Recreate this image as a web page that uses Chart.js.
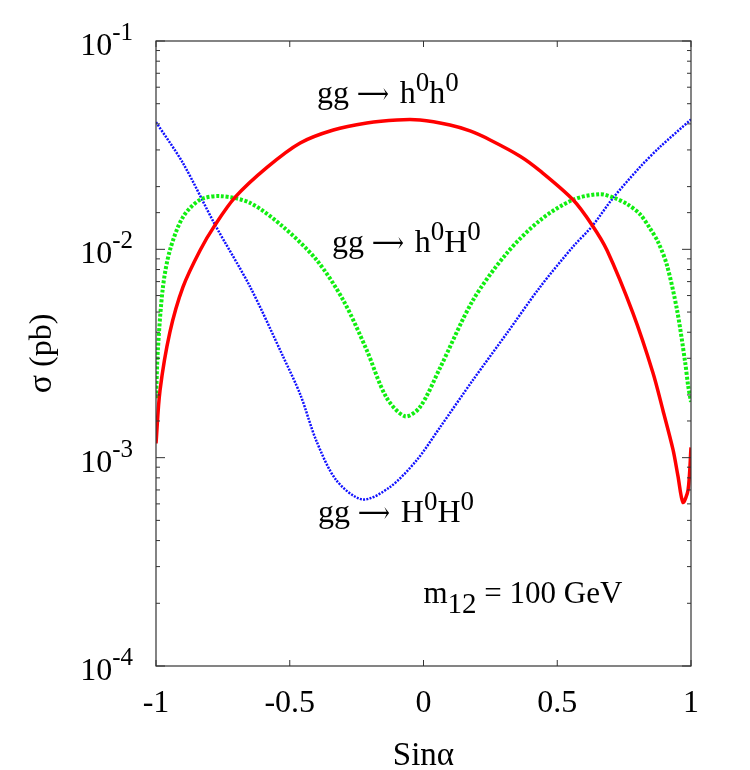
<!DOCTYPE html>
<html>
<head>
<meta charset="utf-8">
<script src="https://cdn.jsdelivr.net/npm/chart.js@4/dist/chart.umd.min.js"></script>
<style>
html,body{margin:0;padding:0;background:#fff;}
#wrap{width:750px;height:770px;position:relative;}
</style>
</head>
<body>
<div id="wrap"><canvas id="c" width="750" height="770"></canvas></div>
<script>
// ---- data ----
const xTicks = [-1, -0.5, 0, 0.5, 1];
const xTickLabels = ['-1', '-0.5', '0', '0.5', '1'];
const yMajor = [1e-4, 1e-3, 1e-2, 1e-1];
const yTickExp = ['-4', '-3', '-2', '-1'];

// gg -> h0h0 (red, solid)
const sHh = [-1, -0.985, -0.948, -0.899, -0.835, -0.779, -0.704, -0.584, -0.461, -0.337, -0.212, -0.099, -0.013, 0.099, 0.174, 0.249, 0.361, 0.436, 0.559, 0.630, 0.686, 0.783, 0.858, 0.895, 0.933, 0.951, 0.970, 0.989, 1.0];
const vHh = [1.17e-3, 2.1e-3, 4.0e-3, 6.6e-3, 9.9e-3, 0.0131, 0.0178, 0.0248, 0.0324, 0.0374, 0.0404, 0.0418, 0.0418, 0.0395, 0.0370, 0.0335, 0.0280, 0.0238, 0.0173, 0.0131, 9.9e-3, 4.94e-3, 2.55e-3, 1.69e-3, 1.09e-3, 8.2e-4, 6.1e-4, 7.0e-4, 1.12e-3];

// gg -> h0H0 (green, dotted)
const shH = [-1, -0.993, -0.974, -0.948, -0.899, -0.835, -0.757, -0.648, -0.524, -0.4, -0.30, -0.213, -0.139, -0.069, -0.013, 0.062, 0.185, 0.312, 0.436, 0.559, 0.660, 0.716, 0.761, 0.809, 0.846, 0.877, 0.910, 0.948, 0.978, 0.989, 1.0];
const vhH = [1.93e-3, 3.3e-3, 6.6e-3, 9.9e-3, 0.0143, 0.0173, 0.018, 0.0167, 0.0128, 8.9e-3, 5.7e-3, 3.3e-3, 1.95e-3, 1.58e-3, 1.75e-3, 2.7e-3, 5.7e-3, 9.6e-3, 0.0138, 0.0173, 0.0184, 0.0176, 0.0165, 0.01476, 0.01265, 0.01084, 8.4e-3, 5.1e-3, 2.88e-3, 2.23e-3, 1.85e-3];

// gg -> H0H0 (blue, dotted)
const sHH = [-1, -0.899, -0.779, -0.648, -0.524, -0.46, -0.4, -0.326, -0.228, -0.127, -0.026, 0.062, 0.185, 0.312, 0.436, 0.559, 0.630, 0.708, 0.809, 0.884, 1.0];
const vHH = [0.0408, 0.0259, 0.0131, 6.6e-3, 3.04e-3, 2.0e-3, 1.2e-3, 7.8e-4, 6.3e-4, 7.2e-4, 9.7e-4, 1.4e-3, 2.36e-3, 3.96e-3, 6.6e-3, 0.0103, 0.0129, 0.0176, 0.0248, 0.031, 0.042];

// text annotations (data coordinates of left edge / baseline)
const annHh = {x: -0.398, y: 0.0503};
const annhH = {x: -0.342, y: 9.7e-3};
const annHH = {x: -0.394, y: 4.9e-4};
const annM = {x: 0.000, y: 2.0e-4};

function pts(xs, ys){ return xs.map((x,i)=>({x:x, y:ys[i]})); }

const SERIF = '"Liberation Serif","Times New Roman",serif';
const ARROWFONT = '"DejaVu Serif","DejaVu Sans",serif';

function drawRich(ctx, parts, x, y, align){
  // parts: [{t, size, dy, fam, width (target width, optional)}]
  let w = 0;
  parts.forEach(p=>{
    ctx.font = p.size + 'px ' + (p.fam || SERIF);
    p.mw = ctx.measureText(p.t).width;
    p.sx = p.width ? p.width / p.mw : 1;
    p.w = p.mw * p.sx;
    w += p.w;
  });
  let cx = x;
  if (align === 'right') cx = x - w;
  else if (align === 'center') cx = x - w/2;
  ctx.textAlign = 'left';
  ctx.textBaseline = 'alphabetic';
  parts.forEach(p=>{
    ctx.font = p.size + 'px ' + (p.fam || SERIF);
    ctx.save();
    ctx.translate(cx, y + (p.dy||0));
    ctx.scale(p.sx, 1);
    ctx.fillText(p.t, 0, 0);
    ctx.restore();
    cx += p.w;
  });
}

function reaction(a, b){
  const sup = (s)=>({t:s, size:27, dy:-12});
  return [{t:'gg ', size:32}, {t:'⟶', size:28, fam:ARROWFONT, width:32, dy:0}, {t:' \u200A' + a, size:32}, sup('0'), {t:b, size:32}, sup('0')];
}

const decor = {
  id: 'decor',
  afterDatasetsDraw(chart){
    const ctx = chart.ctx;
    const a = chart.chartArea;
    const xs = chart.scales.x, ys = chart.scales.y;
    ctx.save();
    // frame
    ctx.strokeStyle = '#333';
    ctx.lineWidth = 1.2;
    ctx.strokeRect(a.left, a.top, a.right - a.left, a.bottom - a.top);
    // x ticks
    ctx.lineWidth = 1;
    xTicks.forEach(v=>{
      const px = xs.getPixelForValue(v);
      ctx.beginPath();
      ctx.moveTo(px, a.bottom); ctx.lineTo(px, a.bottom - 6);
      ctx.moveTo(px, a.top); ctx.lineTo(px, a.top + 6);
      ctx.stroke();
    });
    // y ticks (major + minor) from the log scale
    ys.ticks.forEach(t=>{
      const v = t.value;
      const e = Math.log10(v);
      const major = Math.abs(e - Math.round(e)) < 1e-6;
      const len = major ? 9 : 4;
      const py = ys.getPixelForValue(v);
      ctx.beginPath();
      ctx.moveTo(a.left, py); ctx.lineTo(a.left + len, py);
      ctx.moveTo(a.right, py); ctx.lineTo(a.right - len, py);
      ctx.stroke();
    });
    ctx.fillStyle = '#000';
    // y tick labels 10^n
    yMajor.forEach((v,i)=>{
      const py = ys.getPixelForValue(v);
      drawRich(ctx, [{t:'10', size:32, dy:0}, {t:yTickExp[i], size:25, dy:-15}], a.left - 23, py + 14, 'right');
    });
    // x tick labels
    xTicks.forEach((v,i)=>{
      const px = xs.getPixelForValue(v);
      drawRich(ctx, [{t:xTickLabels[i], size:32}], px, 712, 'center');
    });
    // axis titles
    drawRich(ctx, [{t:'Sinα', size:33}], (a.left + a.right)/2, 765, 'center');
    ctx.save();
    ctx.translate(51, (a.top + a.bottom)/2);
    ctx.rotate(-Math.PI/2);
    drawRich(ctx, [{t:'σ', size:34}, {t:' (pb)', size:32}], 0, 0, 'center');
    ctx.restore();
    // annotations
    let px = xs.getPixelForValue(annHh.x), py = ys.getPixelForValue(annHh.y);
    drawRich(ctx, reaction('h', 'h'), px, py, 'left');
    px = xs.getPixelForValue(annhH.x); py = ys.getPixelForValue(annhH.y);
    drawRich(ctx, reaction('h', 'H'), px, py, 'left');
    px = xs.getPixelForValue(annHH.x); py = ys.getPixelForValue(annHH.y);
    drawRich(ctx, reaction('H', 'H'), px, py, 'left');
    px = xs.getPixelForValue(annM.x); py = ys.getPixelForValue(annM.y);
    drawRich(ctx, [{t:'m', size:31}, {t:'12', size:29, dy:10}, {t:' = 100 GeV', size:31}], px, py, 'left');
    ctx.restore();
  }
};

new Chart(document.getElementById('c'), {
  type: 'line',
  data: {
    datasets: [
      {label: 'gg → h0h0', data: pts(sHh, vHh), borderColor: '#ff0000', borderWidth: 3.5, pointRadius: 0, tension: 0.3, fill: false},
      {label: 'gg → h0H0', data: pts(shH, vhH), borderColor: '#11ee11', borderWidth: 4, borderDash: [3, 1.8], pointRadius: 0, tension: 0.3, fill: false},
      {label: 'gg → H0H0', data: pts(sHH, vHH), borderColor: '#1010ff', borderWidth: 2.5, borderDash: [2, 1.3], pointRadius: 0, tension: 0.3, fill: false}
    ]
  },
  options: {
    responsive: false,
    animation: false,
    events: [],
    layout: {padding: {left: 156, right: 59, top: 41, bottom: 104}},
    plugins: {legend: {display: false}, tooltip: {enabled: false}, title: {display: false}},
    scales: {
      x: {type: 'linear', min: -1, max: 1, display: false},
      y: {type: 'logarithmic', min: 1e-4, max: 1e-1, display: false}
    }
  },
  plugins: [decor]
});
</script>
</body>
</html>
